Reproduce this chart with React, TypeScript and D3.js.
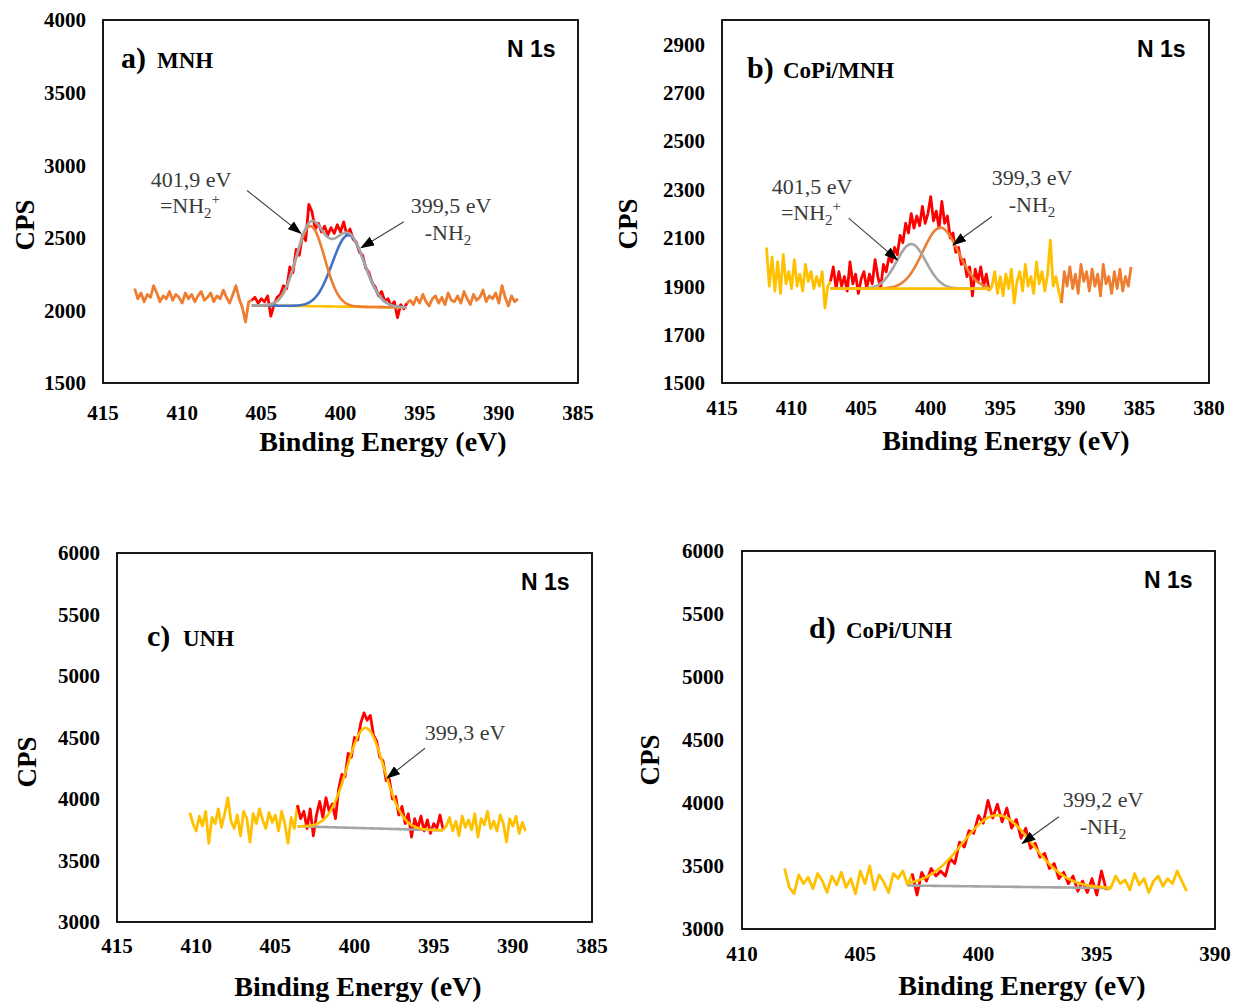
import React from 'react';
import * as d3 from 'd3';

// ---------- colours ----------
const ORANGE = '#ED7D31';
const RED = '#FF0000';
const YELLOW = '#FFC000';
const BLUE = '#4472C4';
const GRAY = '#A5A5A5';

// ---------- panel a) MNH ----------
const aStartE = 413.0;
const aStep = 0.2;
const aCounts = [
  2150, 2080, 2120, 2060, 2110, 2090, 2170, 2120, 2060, 2100, 2080, 2130, 2070, 2110, 2090, 2050, 2120, 2080, 2110, 2060,
  2100, 2130, 2070, 2090, 2120, 2060, 2100, 2080, 2140, 2090, 2050, 2110, 2170, 2080, 2020, 1920, 2060,
  // fit region
  2070, 2090, 2050, 2080, 2060, 2100, 1960, 2040, 2090, 2110, 2170, 2150, 2300, 2260, 2420, 2380, 2520, 2480, 2730, 2680,
  2560, 2600, 2540, 2580, 2520, 2570, 2530, 2590, 2540, 2610, 2520, 2560, 2490, 2470, 2400, 2380, 2290, 2260, 2190, 2160,
  2100, 2130, 2060, 2080, 2030, 2060, 1950, 2040, 2010, 2050,
  // right
  2070, 2040, 2090, 2050, 2110, 2060, 2030, 2080, 2100, 2050, 2090, 2040, 2120, 2070, 2060, 2100, 2050, 2130, 2080, 2040,
  2110, 2070, 2090, 2140, 2060, 2100, 2080, 2120, 2050, 2170, 2090, 2030, 2100, 2060, 2080,
];
const aXTicks = [415, 410, 405, 400, 395, 390, 385];
const aYTicks = [1500, 2000, 2500, 3000, 3500, 4000];
const aPeaks = [
  { center: 401.9, height: 552, fwhm: 2.1, color: ORANGE },
  { center: 399.5, height: 493, fwhm: 2.4, color: BLUE },
];
const aBaseline = [2035, 2020];

// ---------- panel b) CoPi/MNH ----------
const bStartE = 411.8;
const bStep = 0.2;
const bCounts = [
  2060, 1900, 2020, 1880, 2000, 1870, 2030, 1910, 1960, 1890, 2010, 1900, 1950, 1880, 1990, 1920, 1960, 1890, 1940, 1900,
  1960, 1810, 1900,
  // fit region
  1920, 1980, 1890, 1960, 1900, 1940, 1880, 2000, 1910, 1950, 1870, 1930, 1960, 1890, 1950, 1910, 2010, 1940, 1890, 1990,
  1960, 2020, 2000, 2060, 2030, 2110, 2080, 2160, 2120, 2200, 2140, 2190, 2150, 2230, 2160, 2200, 2270, 2170, 2210, 2140,
  2250, 2160, 2190, 2100, 2120, 2040, 2060, 1990, 2010, 1940, 1980, 1860, 1970, 1920, 1980, 1900, 1950, 1880,
  // yellow right
  1900, 1960, 1870, 1940, 1860, 1950, 1890, 1970, 1830, 1920, 1960, 1880, 1990, 1900, 1940, 1870, 2000, 1910, 1960, 1880,
  1950, 2090, 1900, 1940, 1880,
  // orange right
  1830, 1960, 1900, 1980, 1890, 1950, 1870, 1990, 1920, 1960, 1880, 1970, 1900, 1950, 1860, 1990, 1910, 1940, 1870, 1960,
  1890, 1970, 1880, 1940, 1900, 1980,
];
const bXTicks = [415, 410, 405, 400, 395, 390, 385, 380];
const bYTicks = [1500, 1700, 1900, 2100, 2300, 2500, 2700, 2900];
const bPeaks = [
  { center: 401.4, height: 184, fwhm: 2.5, color: GRAY },
  { center: 399.3, height: 252, fwhm: 3.0, color: ORANGE },
];
const bBaseline = [1890, 1890];

// ---------- panel c) UNH ----------
const cStartE = 410.4;
const cStep = 0.2;
const cCounts = [
  3890, 3800, 3740, 3860, 3780, 3900, 3640, 3850, 3800, 3920, 3770, 3880, 4010, 3820, 3760, 3870, 3700, 3900, 3840, 3650,
  3880, 3800, 3920, 3830, 3760, 3890, 3810, 3870, 3740, 3900, 3800, 3640, 3850, 3760,
  // fit region
  3950, 3840, 3900, 3760, 3920, 3700, 3870, 3980, 3850, 4010, 3900, 3960, 3840, 4080, 4200, 4180, 4370, 4340, 4500, 4480,
  4620, 4700, 4640, 4680, 4520, 4470, 4340, 4310, 4150, 4160, 4000, 4020, 3870, 3940, 3800, 3880, 3690, 3840, 3760, 3860,
  3740, 3830, 3720, 3800, 3760, 3870, 3750,
  // right
  3780, 3850, 3740, 3820, 3700, 3860, 3770, 3830, 3750, 3880, 3690, 3840, 3790, 3900, 3760, 3820, 3740, 3870, 3800, 3650,
  3840, 3780, 3860, 3720, 3810, 3740,
];
const cXTicks = [415, 410, 405, 400, 395, 390, 385];
const cYTicks = [3000, 3500, 4000, 4500, 5000, 5500, 6000];
const cPeaks = [{ center: 399.3, height: 815, fwhm: 2.74, color: YELLOW }];
const cBaseline = [3778, 3745];

// ---------- panel d) CoPi/UNH ----------
const dStartE = 408.2;
const dStep = 0.2;
const dCounts = [
  3480, 3330, 3280, 3430, 3360, 3410, 3320, 3440, 3380, 3290, 3420, 3350, 3450, 3330, 3400, 3280, 3460, 3360, 3500, 3310,
  3430, 3370, 3290, 3440, 3400, 3460, 3350,
  // fit region
  3440, 3270, 3450, 3380, 3480, 3420, 3460, 3420, 3560, 3520, 3690, 3650, 3780, 3760, 3900, 3840, 4020, 3880, 3990, 3850,
  3960, 3800, 3870, 3720, 3800, 3640, 3680, 3570, 3600, 3480, 3520, 3400, 3450, 3360, 3420, 3300, 3380, 3290, 3400, 3270,
  3460, 3310,
  // right
  3330, 3420, 3360, 3390, 3310, 3440, 3350, 3400, 3290, 3380, 3420, 3340, 3400, 3360, 3460, 3380, 3300,
];
const dXTicks = [410, 405, 400, 395, 390];
const dYTicks = [3000, 3500, 4000, 4500, 5000, 5500, 6000];
const dPeaks = [{ center: 399.2, height: 567, fwhm: 3.45, color: YELLOW }];
const dBaseline = [3345, 3325];

// ---------- layout ----------
type Seg = { from: number; to: number; color: string };
type Peak = { center: number; height: number; fwhm: number; color: string };
type Arrow = { tail: [number, number]; tip: [number, number] };
type Ann = { x: number; y: number; parts: { t: string; kind?: 'sub' | 'sup' }[] };

interface PanelCfg {
  key: string;
  frame: { x0: number; y0: number; x1: number; y1: number };
  xDomain: [number, number];
  yDomain: [number, number];
  xTicks: number[];
  yTicks: number[];
  startE: number;
  step: number;
  counts: number[];
  segments: Seg[];
  fit: { from: number; to: number; base: number[]; baseColor: string; baseOnTop: boolean; peaks: Peak[]; envelope: string | null };
  yTickX: number;
  xTickY: number;
  title: [number, number];
  cps: [number, number];
  letter: { x: number; y: number; l: string; name: string; nameX: number };
  n1s: [number, number];
  anns: Ann[];
  arrows: Arrow[];
}

const panels: PanelCfg[] = [
  {
    key: 'a',
    frame: { x0: 103, y0: 20, x1: 578, y1: 383 },
    xDomain: [415, 385], yDomain: [1500, 4000], xTicks: aXTicks, yTicks: aYTicks,
    startE: aStartE, step: aStep, counts: aCounts,
    segments: [
      { from: 413.0, to: 405.6, color: ORANGE },
      { from: 405.6, to: 395.8, color: RED },
      { from: 395.8, to: 388.8, color: ORANGE },
    ],
    fit: { from: 405.6, to: 395.8, base: aBaseline, baseColor: YELLOW, baseOnTop: false, peaks: aPeaks, envelope: GRAY },
    yTickX: 86, xTickY: 413, title: [383, 441], cps: [25, 225],
    letter: { x: 121, y: 68, l: 'a)', name: 'MNH', nameX: 157 },
    n1s: [507, 57],
    anns: [
      { x: 191, y: 187, parts: [{ t: '401,9 eV' }] },
      { x: 190, y: 213, parts: [{ t: '=NH' }, { t: '2', kind: 'sub' }, { t: '+', kind: 'sup' }] },
      { x: 451, y: 213, parts: [{ t: '399,5 eV' }] },
      { x: 448, y: 240, parts: [{ t: '-NH' }, { t: '2', kind: 'sub' }] },
    ],
    arrows: [
      { tail: [405.9, 2826], tip: [402.5, 2530] },
      { tail: [396.0, 2610], tip: [398.7, 2432] },
    ],
  },
  {
    key: 'b',
    frame: { x0: 722, y0: 20, x1: 1209, y1: 383 },
    xDomain: [415, 380], yDomain: [1500, 3000], xTicks: bXTicks, yTicks: bYTicks,
    startE: bStartE, step: bStep, counts: bCounts,
    segments: [
      { from: 411.8, to: 407.2, color: YELLOW },
      { from: 407.2, to: 395.8, color: RED },
      { from: 395.8, to: 390.6, color: YELLOW },
      { from: 390.6, to: 385.6, color: ORANGE },
    ],
    fit: { from: 407.2, to: 395.8, base: bBaseline, baseColor: YELLOW, baseOnTop: true, peaks: bPeaks, envelope: null },
    yTickX: 705, xTickY: 408, title: [1006, 440], cps: [628, 224],
    letter: { x: 747, y: 78, l: 'b)', name: 'CoPi/MNH', nameX: 783 },
    n1s: [1137, 57],
    anns: [
      { x: 812, y: 194, parts: [{ t: '401,5 eV' }] },
      { x: 811, y: 220, parts: [{ t: '=NH' }, { t: '2', kind: 'sub' }, { t: '+', kind: 'sup' }] },
      { x: 1032, y: 185, parts: [{ t: '399,3 eV' }] },
      { x: 1032, y: 212, parts: [{ t: '-NH' }, { t: '2', kind: 'sub' }] },
    ],
    arrows: [
      { tail: [405.9, 2181], tip: [402.4, 2009] },
      { tail: [395.6, 2188], tip: [398.4, 2071] },
    ],
  },
  {
    key: 'c',
    frame: { x0: 117, y0: 553, x1: 592, y1: 922 },
    xDomain: [415, 385], yDomain: [3000, 6000], xTicks: cXTicks, yTicks: cYTicks,
    startE: cStartE, step: cStep, counts: cCounts,
    segments: [
      { from: 410.4, to: 403.6, color: YELLOW },
      { from: 403.6, to: 394.4, color: RED },
      { from: 394.4, to: 389.2, color: YELLOW },
    ],
    fit: { from: 403.6, to: 394.4, base: cBaseline, baseColor: GRAY, baseOnTop: false, peaks: cPeaks, envelope: null },
    yTickX: 100, xTickY: 946, title: [358, 986], cps: [27, 762],
    letter: { x: 147, y: 646, l: 'c)', name: 'UNH', nameX: 183 },
    n1s: [521, 590],
    anns: [{ x: 465, y: 740, parts: [{ t: '399,3 eV' }] }],
    arrows: [{ tail: [395.55, 4413], tip: [397.95, 4169] }],
  },
  {
    key: 'd',
    frame: { x0: 742, y0: 551, x1: 1215, y1: 929 },
    xDomain: [410, 390], yDomain: [3000, 6000], xTicks: dXTicks, yTicks: dYTicks,
    startE: dStartE, step: dStep, counts: dCounts,
    segments: [
      { from: 408.2, to: 402.8, color: YELLOW },
      { from: 402.8, to: 394.6, color: RED },
      { from: 394.6, to: 391.2, color: YELLOW },
    ],
    fit: { from: 403.0, to: 394.4, base: dBaseline, baseColor: GRAY, baseOnTop: false, peaks: dPeaks, envelope: null },
    yTickX: 724, xTickY: 954, title: [1022, 985], cps: [650, 760],
    letter: { x: 809, y: 638, l: 'd)', name: 'CoPi/UNH', nameX: 846 },
    n1s: [1144, 588],
    anns: [
      { x: 1103, y: 807, parts: [{ t: '399,2 eV' }] },
      { x: 1103, y: 834, parts: [{ t: '-NH' }, { t: '2', kind: 'sub' }] },
    ],
    arrows: [{ tail: [396.6, 3891], tip: [398.15, 3680] }],
  },
];

const SERIF = '"Liberation Serif", "Times New Roman", serif';
const SANS = '"Liberation Sans", Arial, sans-serif';

function gauss(e: number, p: Peak) {
  const s = p.fwhm / 2.3548;
  return p.height * Math.exp(-((e - p.center) ** 2) / (2 * s * s));
}

function AnnText({ a }: { a: Ann }) {
  let shift = 0;
  return (
    <text x={a.x} y={a.y} textAnchor="middle" fontFamily={SERIF} fontSize={22} fill="#3a3a3a">
      {a.parts.map((p, i) => {
        let dy = 0;
        let fs: number | undefined;
        if (p.kind === 'sub') { dy = 5 - shift; shift = 5; fs = 15; }
        else if (p.kind === 'sup') { dy = -9 - shift; shift = -9; fs = 15; }
        else { dy = -shift; shift = 0; }
        return (
          <tspan key={i} dy={dy} fontSize={fs}>{p.t}</tspan>
        );
      })}
    </text>
  );
}

function Panel({ p }: { p: PanelCfg }) {
  const { x0, y0, x1, y1 } = p.frame;
  const x = d3.scaleLinear().domain(p.xDomain).range([x0, x1]);
  const y = d3.scaleLinear().domain(p.yDomain).range([y1, y0]);
  const pts = p.counts.map((v, i) => ({ e: +(p.startE - i * p.step).toFixed(3), v }));
  const line = d3.line<{ e: number; v: number }>().x(d => x(d.e)).y(d => y(d.v));

  const f = p.fit;
  const grid = d3.range(f.from, f.to - 1e-9, -0.05).concat([f.to]);
  const base = (e: number) => f.base[0] + ((f.base[1] - f.base[0]) * (f.from - e)) / (f.from - f.to);
  const basePath = line(grid.map(e => ({ e, v: base(e) })));
  const peakPaths = f.peaks.map(pk => ({ color: pk.color, d: line(grid.map(e => ({ e, v: base(e) + gauss(e, pk) }))) }));
  const envPath = f.envelope
    ? line(grid.map(e => ({ e, v: base(e) + d3.sum(f.peaks, pk => gauss(e, pk)) })))
    : null;

  const lw = 2.8;
  const fw = 2.6;
  return (
    <g>
      {p.segments.map((s, i) => {
        const sp = pts.filter(d => d.e <= s.from + 1e-6 && d.e >= s.to - 1e-6);
        return <path key={i} d={line(sp) || ''} fill="none" stroke={s.color} strokeWidth={lw} strokeLinejoin="round" />;
      })}
      {!f.baseOnTop && <path d={basePath || ''} fill="none" stroke={f.baseColor} strokeWidth={fw} />}
      {[...peakPaths].reverse().map((pp, i) => (
        <path key={i} d={pp.d || ''} fill="none" stroke={pp.color} strokeWidth={fw} />
      ))}
      {envPath && <path d={envPath} fill="none" stroke={f.envelope as string} strokeWidth={fw} />}
      {f.baseOnTop && <path d={basePath || ''} fill="none" stroke={f.baseColor} strokeWidth={fw} />}

      <rect x={x0} y={y0} width={x1 - x0} height={y1 - y0} fill="none" stroke="#000" strokeWidth={1.8} />

      {p.yTicks.map(t => (
        <text key={t} x={p.yTickX} y={y(t)} dy="0.35em" textAnchor="end" fontFamily={SERIF} fontWeight="bold" fontSize={21} fill="#000">
          {t}
        </text>
      ))}
      {p.xTicks.map(t => (
        <text key={t} x={x(t)} y={p.xTickY} dy="0.35em" textAnchor="middle" fontFamily={SERIF} fontWeight="bold" fontSize={21} fill="#000">
          {t}
        </text>
      ))}
      <text x={p.title[0]} y={p.title[1]} dy="0.35em" textAnchor="middle" fontFamily={SERIF} fontWeight="bold" fontSize={28} fill="#000">
        Binding Energy (eV)
      </text>
      <text
        transform={`translate(${p.cps[0]},${p.cps[1]}) rotate(-90)`}
        dy="0.35em" textAnchor="middle" fontFamily={SERIF} fontWeight="bold" fontSize={27} fill="#000"
      >
        CPS
      </text>
      <text x={p.letter.x} y={p.letter.y} fontFamily={SERIF} fontWeight="bold" fontSize={30} fill="#000">{p.letter.l}</text>
      <text x={p.letter.nameX} y={p.letter.y} fontFamily={SERIF} fontWeight="bold" fontSize={23} fill="#000">{p.letter.name}</text>
      <text x={p.n1s[0]} y={p.n1s[1]} fontFamily={SANS} fontWeight="bold" fontSize={23} fill="#000">N 1s</text>

      {p.anns.map((a, i) => <AnnText key={i} a={a} />)}
      {p.arrows.map((a, i) => (
        <line
          key={i}
          x1={x(a.tail[0])} y1={y(a.tail[1])} x2={x(a.tip[0])} y2={y(a.tip[1])}
          stroke="#404040" strokeWidth={1.1} markerEnd="url(#ah)"
        />
      ))}
    </g>
  );
}

export default function App() {
  return (
    <svg
      width={1233}
      height={1002}
      viewBox="0 0 1233 1002"
      style={{ position: 'absolute', left: 0, top: 0, background: '#fff' }}
    >
      <defs>
        <marker id="ah" viewBox="0 0 14 10" refX={13} refY={5} markerWidth={14} markerHeight={10} markerUnits="userSpaceOnUse" orient="auto">
          <path d="M0,0 L14,5 L0,10 Z" fill="#000" />
        </marker>
      </defs>
      <rect x={0} y={0} width={1233} height={1002} fill="#fff" />
      {panels.map(p => <Panel key={p.key} p={p} />)}
    </svg>
  );
}
